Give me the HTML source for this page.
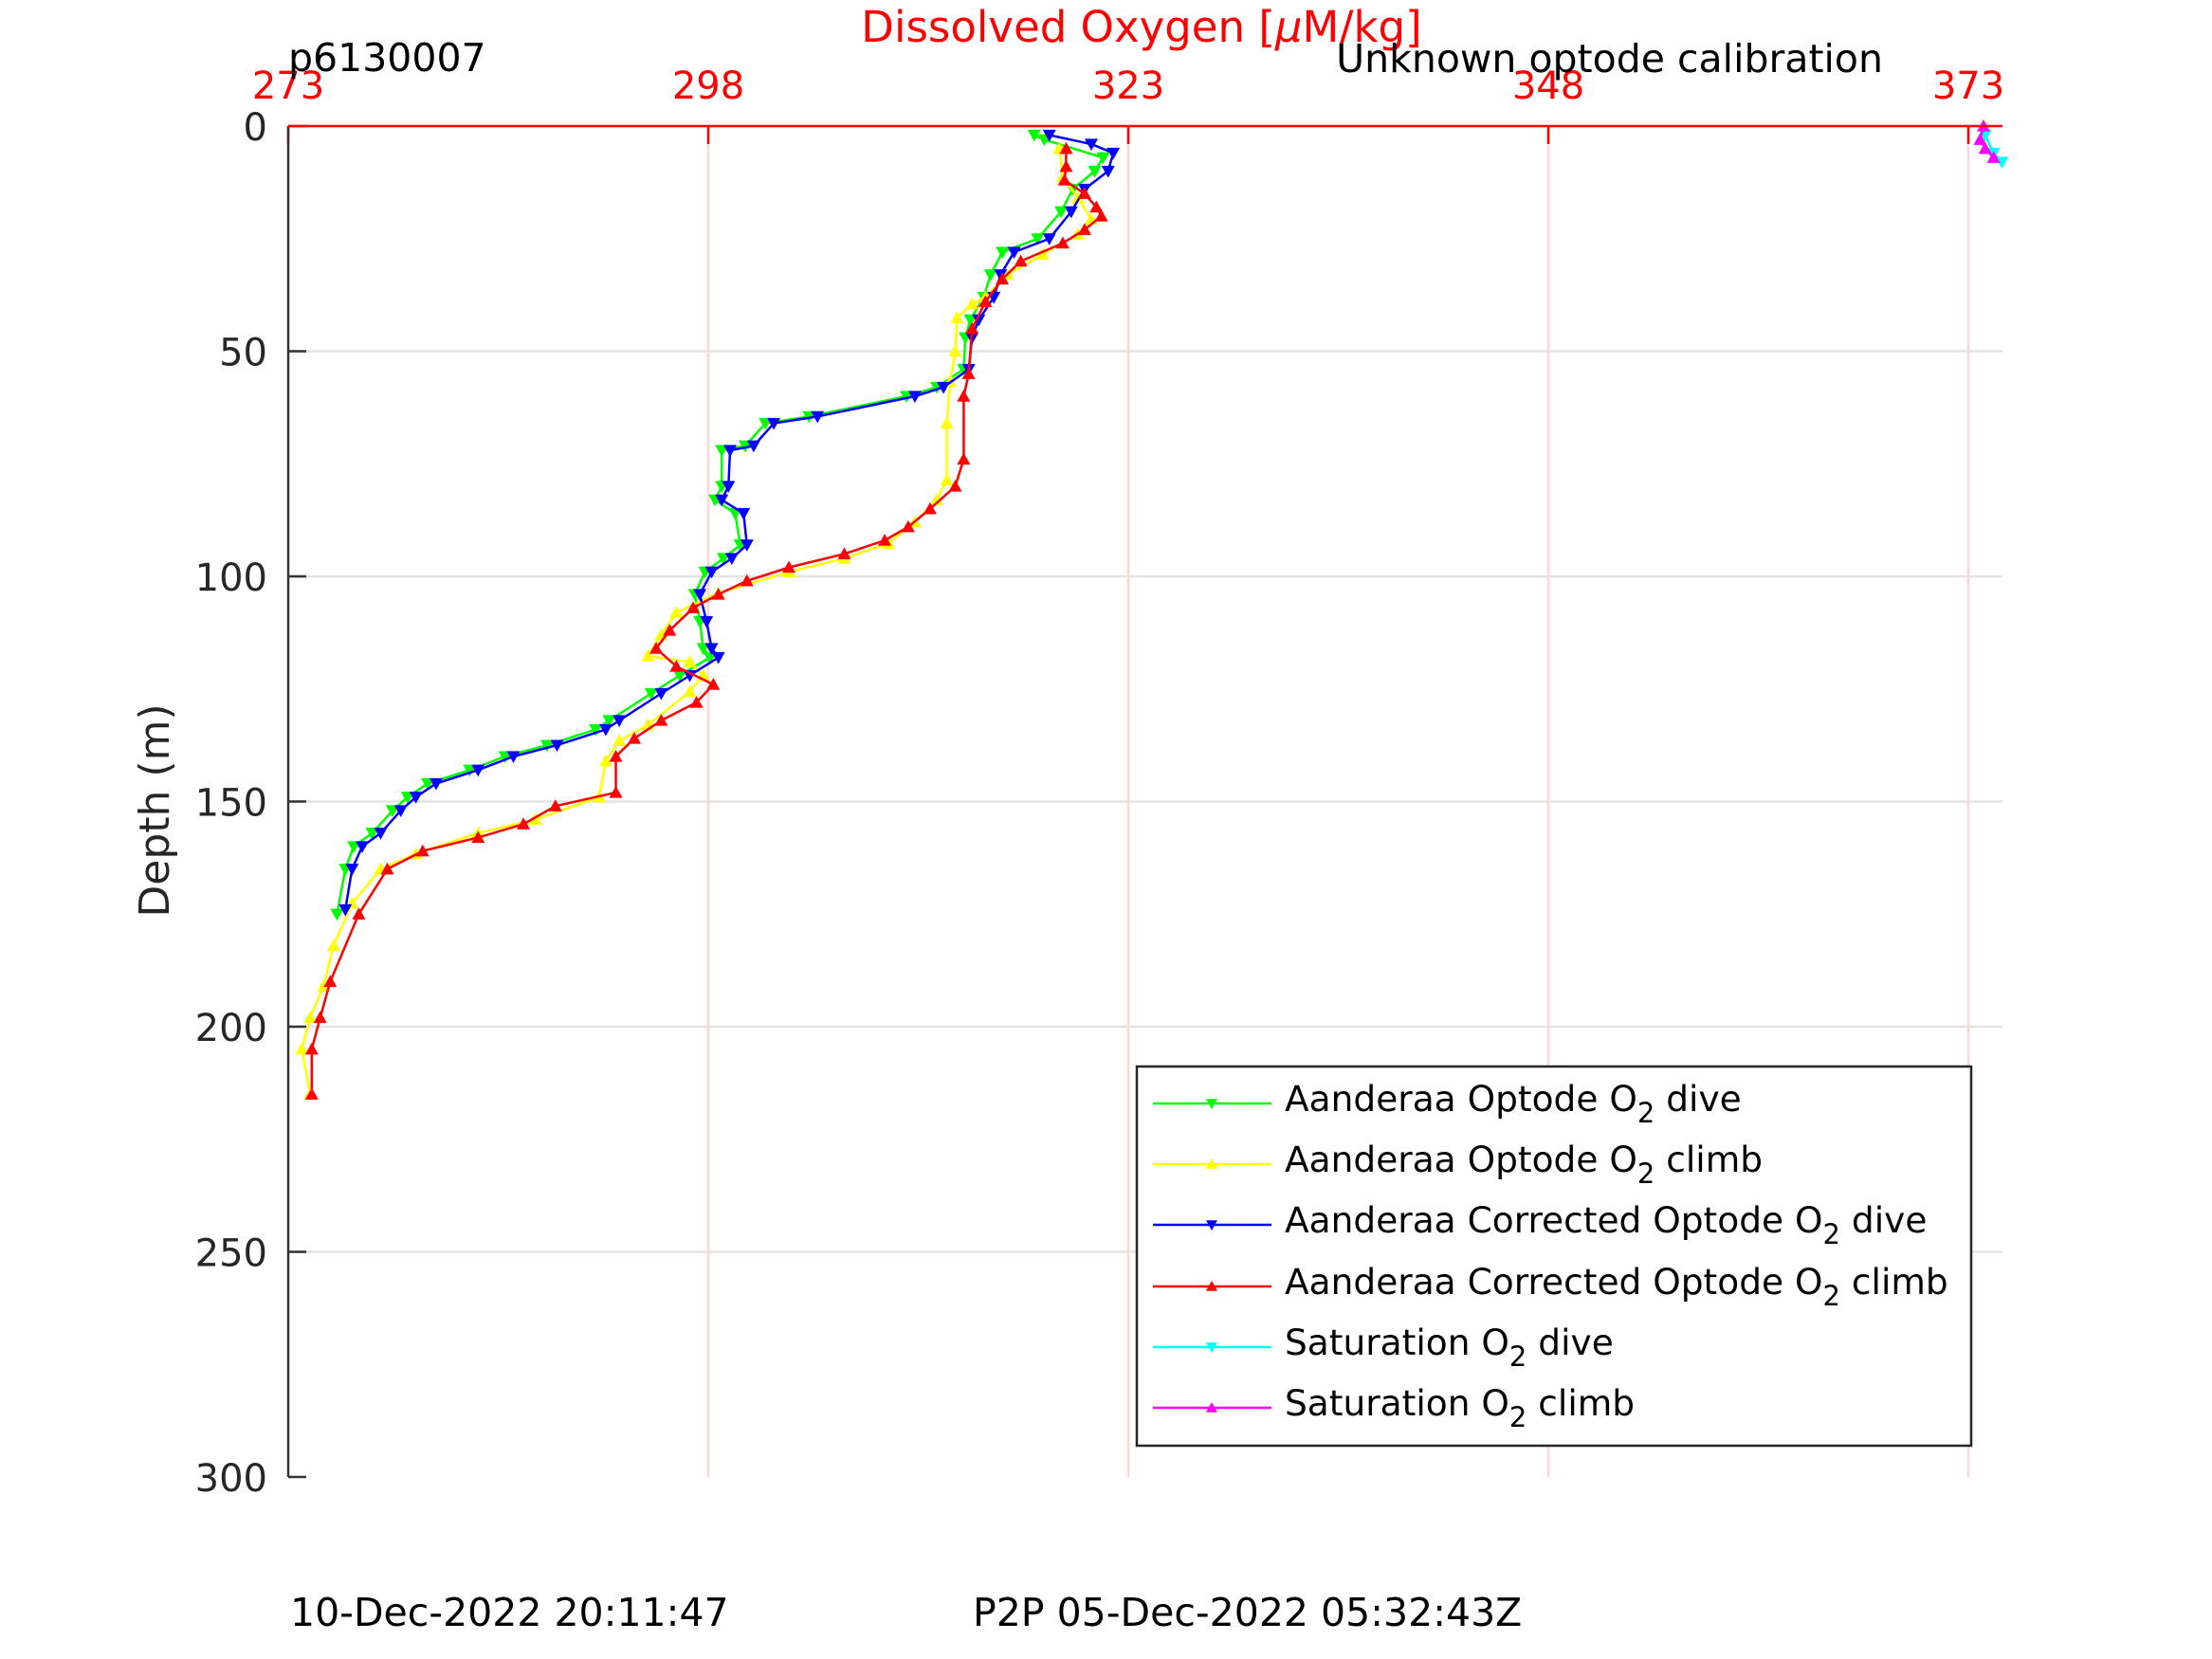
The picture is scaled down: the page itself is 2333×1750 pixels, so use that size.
<!DOCTYPE html>
<html><head><meta charset="utf-8"><style>
html,body{margin:0;padding:0;background:#fff;}
svg{display:block;font-family:"DejaVu Sans","Liberation Sans",sans-serif;}
</style></head><body>
<svg id="chart" width="2333" height="1750" viewBox="0 0 2333 1750" xmlns="http://www.w3.org/2000/svg">
<g id="grid"></g>
<g id="series"></g>
<g id="axes"></g>
<text x="1204" y="44" font-size="45" fill="#ff0000" text-anchor="middle">Dissolved Oxygen [<tspan font-style="italic">μ</tspan>M/kg]</text>
<text x="304" y="75" font-size="41" fill="#000">p6130007</text>
<text x="1986" y="76" font-size="41" fill="#000" text-anchor="end">Unknown optode calibration</text>
<text transform="translate(178,855) rotate(-90)" font-size="44" fill="#262626" text-anchor="middle">Depth (m)</text>
<text x="306" y="1715" font-size="41" fill="#000">10-Dec-2022 20:11:47</text>
<text x="1026" y="1715" font-size="41" fill="#000">P2P 05-Dec-2022 05:32:43Z</text>
<g id="legend"></g>
</svg>
<script>
// ---- data ----
const xTicks = [273, 298, 323, 348, 373];
const yTicks = [0, 50, 100, 150, 200, 250, 300];
const blueDepth = [2,4,6,10,14,19,25,28,33,38,43,47,54,58,60,64.5,66,71,72,80,83,86,93,96,99,104,110,116,118,122,126,132,134,137.5,140,143,146,149,152,157,160,165,174];
const blueO2 = [318.3,320.8,322.1,321.8,320.4,319.6,318.3,316.2,315.4,315.0,314.1,313.7,313.5,312.0,310.3,304.5,301.9,300.7,299.3,299.2,298.8,300.1,300.3,299.4,298.2,297.5,297.9,298.2,298.6,296.9,295.2,292.7,291.9,289.0,286.4,284.3,281.8,280.6,279.7,278.5,277.4,276.8,276.4];
const greenDepth = [2,3,7,10,14,19,25,28,33,38,43,47,54,58,60,64.5,66,71,72,80,83,86,93,96,99,104,110,116,118,122,126,132,134,137.5,140,143,146,149,152,157,160,165,175];
const greenO2 = [317.4,318.0,321.5,321.0,319.7,319.0,317.6,315.5,314.8,314.4,313.6,313.3,313.2,311.6,309.8,304.0,301.4,300.2,298.8,298.8,298.4,299.6,299.9,298.9,297.8,297.2,297.5,297.7,298.1,296.3,294.6,292.1,291.3,288.4,285.9,283.8,281.3,280.1,279.2,278.0,276.9,276.4,275.9];
const yellowDepth = [215,205,198,191,182,172.6,165,161.6,157,154,149,141,136.5,133,125.6,122,119,117.7,113,108,103.7,99,96,92.7,88,83,78.6,66,56.7,50,42.6,39.5,38,33,28.5,24,20.7,16,11.3,5];
const yellowO2 = [274.3,273.8,274.3,275.1,275.7,276.8,278.5,280.6,284.3,287.7,291.5,291.9,292.7,294.4,296.9,297.7,296.9,294.4,295.2,296.1,298.6,302.8,306.1,308.7,310.3,311.6,312.2,312.2,312.4,312.7,312.8,313.7,314.5,315.8,317.9,320.0,320.8,320.0,319.1,318.9];
const redDepth = [215,205,198,190,175,165,161,158,155,151,148,140,136,132,128,124,120,116,112,107,104,101,98,95,92,89,85,80,74,60,55,45,39,34,30,26,23,20,18,15,12,9,5];
const redO2 = [274.4,274.4,274.9,275.5,277.2,278.9,281.0,284.3,287.0,288.9,292.5,292.5,293.6,295.2,297.3,298.3,296.1,294.9,295.7,297.1,298.6,300.3,302.8,306.1,308.5,309.9,311.2,312.7,313.2,313.2,313.5,313.7,314.5,315.5,316.6,319.1,320.4,321.4,321.1,320.4,319.2,319.3,319.3];
const cyanDepth = [2,6,8];
const cyanO2 = [374.0,374.5,375.0];
const magentaDepth = [0,3,5,7];
const magentaO2 = [373.9,373.7,374.0,374.5];

// ---- axes ----
const L=304,R=2112,T=133,B=1558, X0=273,X1=375.03, Y0=0,Y1=300;
const sx=v=>L+(v-X0)/(X1-X0)*(R-L);
const sy=d=>T+(d-Y0)/(Y1-Y0)*(B-T);
const NS='http://www.w3.org/2000/svg';
function mk(tag,attrs,parent){const e=document.createElementNS(NS,tag);for(const k in attrs)e.setAttribute(k,attrs[k]);parent.appendChild(e);return e;}
const grid=document.getElementById('grid'),axes=document.getElementById('axes'),ser=document.getElementById('series'),leg=document.getElementById('legend');

yTicks.forEach(t=>{
  if(t>0&&t<300){const g=mk('line',{x1:L,x2:R,y1:sy(t),y2:sy(t),stroke:'#e3e3e3','stroke-width':2.5},grid);
  
  }
  const tk=mk('line',{x1:L,x2:L+19,y1:sy(t),y2:sy(t),stroke:'#333','stroke-width':2.5},axes);
  
  
  const lb=mk('text',{x:282,y:sy(t)+15,'font-size':40,fill:'#262626','text-anchor':'end'},axes);
  lb.textContent=t;
  
  
});
xTicks.forEach(t=>{
  if(t>273){const g=mk('line',{x1:sx(t),x2:sx(t),y1:T,y2:B,stroke:'#ffd6d6','stroke-width':2.5},grid);
  
  }
  const tk=mk('line',{x1:sx(t),x2:sx(t),y1:T,y2:T+19,stroke:'#ff0000','stroke-width':2.5},axes);
  
  
  const lb=mk('text',{x:sx(t),y:104,'font-size':40,fill:'#ff0000','text-anchor':'middle'},axes);
  lb.textContent=t;
  
  
});
const ya=mk('line',{x1:L,x2:L,y1:T,y2:B,stroke:'#333','stroke-width':2.5},axes);


const xa=mk('line',{x1:L,x2:R,y1:T,y2:T,stroke:'#ff0000','stroke-width':2.5},axes);



function tri(cx,cy,up,s){return up?`${cx},${cy-s} ${cx-s},${cy+s*0.8} ${cx+s},${cy+s*0.8}`:`${cx},${cy+s} ${cx-s},${cy-s*0.8} ${cx+s},${cy-s*0.8}`;}
function drawSeries(name,xs,ds,color,up){
  const g=mk('g',{},ser);
  
  
  const pts=xs.map((v,i)=>sx(v).toFixed(1)+','+sy(ds[i]).toFixed(1)).join(' ');
  const pl=mk('polyline',{points:pts,fill:'none',stroke:color,'stroke-width':2.5},g);
  
  
  xs.forEach((v,i)=>{const m=mk('polygon',{points:tri(sx(v),sy(ds[i]),up,7),fill:color},g);
    
    });
}
drawSeries('optode-dive',greenO2,greenDepth,'#00ff00',false);
drawSeries('optode-climb',yellowO2,yellowDepth,'#ffff00',true);
drawSeries('corrected-dive',blueO2,blueDepth,'#0000ff',false);
drawSeries('corrected-climb',redO2,redDepth,'#ff0000',true);
drawSeries('saturation-dive',cyanO2,cyanDepth,'#00ffff',false);
drawSeries('saturation-climb',magentaO2,magentaDepth,'#ff00ff',true);

// legend
const lbox=mk('rect',{x:1199,y:1125,width:880,height:400,fill:'#fff',stroke:'#262626','stroke-width':2.5},leg);


const legItems=[['#00ff00',false,'Aanderaa Optode O','dive'],['#ffff00',true,'Aanderaa Optode O','climb'],['#0000ff',false,'Aanderaa Corrected Optode O','dive'],['#ff0000',true,'Aanderaa Corrected Optode O','climb'],['#00ffff',false,'Saturation O','dive'],['#ff00ff',true,'Saturation O','climb']];
const legY=[1164,1228,1292,1357,1421,1485];
legItems.forEach((it,i)=>{
  const g=mk('g',{},leg);
  
  
  mk('line',{x1:1216,x2:1341,y1:legY[i],y2:legY[i],stroke:it[0],'stroke-width':2.5},g);
  mk('polygon',{points:tri(1278,legY[i],it[1],6),fill:it[0]},g);
  const t=mk('text',{x:1355,y:legY[i]+8,'font-size':37.5,fill:'#000'},g);
  t.innerHTML=it[2]+'<tspan font-size="29" dy="12">2</tspan><tspan dy="-12"> '+it[3]+'</tspan>';
});
</script>
</body></html>
